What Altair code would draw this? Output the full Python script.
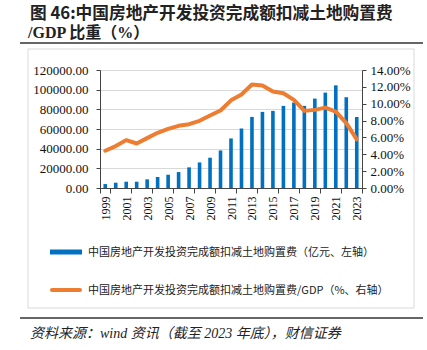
import altair as alt
import pandas as pd

years = [str(y) for y in range(1999, 2024)]
invest = [4000, 5400, 6400, 6400, 8800, 11200, 13500, 16200, 21000, 26000, 30800,
          38200, 50400, 60500, 72300, 77400, 78400, 83500, 86900, 83500, 90900,
          97000, 104400, 92300, 72300]
ratio = [4.42, 4.97, 5.68, 5.28, 5.92, 6.55, 7.02, 7.38, 7.57, 7.97, 8.60,
         9.20, 10.40, 11.10, 12.27, 12.15, 11.44, 11.24, 10.45, 9.15, 9.27,
         9.54, 9.07, 7.69, 5.76]
odd_years = [y for y in years if int(y) % 2 == 1]

title1 = "图 46:中国房地产开发投资完成额扣减土地购置费"
title2 = "/GDP 比重（%）"
legend1 = "中国房地产开发投资完成额扣减土地购置费（亿元、左轴）"
legend2 = "中国房地产开发投资完成额扣减土地购置费/GDP（%、右轴）"
source = "资料来源：wind 资讯（截至 2023 年底），财信证券"

df = pd.DataFrame({"year": years, "invest": invest, "ratio": [r / 100 for r in ratio]})
one = pd.DataFrame({"a": [0]})

SERIF = "Liberation Serif, Noto Sans CJK SC"
SANS = "Noto Sans CJK SC"
BLUE = "#0070C0"
ORANGE = "#ED7D31"

xenc = alt.X("year:O", title=None,
             scale=alt.Scale(paddingInner=0, paddingOuter=0),
             axis=alt.Axis(values=odd_years, labelAngle=270, labelFont=SERIF,
                           labelFontSize=12, labelColor="#111", domainColor="#444",
                           tickColor="#444", tickSize=5, tickBand="extent",
                           labelPadding=3, labelAlign="right", labelBaseline="middle"))

bars = alt.Chart(df).mark_bar(color=BLUE, size=3.6).encode(
    x=xenc,
    y=alt.Y("invest:Q", title=None,
            scale=alt.Scale(domain=[0, 120000]),
            axis=alt.Axis(orient="left", values=[0, 20000, 40000, 60000, 80000, 100000, 120000],
                          format=".2f", labelFont=SERIF, labelFontSize=13, labelColor="#111",
                          grid=True, gridColor="#D9D9D9", domainColor="#444",
                          tickColor="#444", tickSize=4, labelPadding=8))
)

line = alt.Chart(df).mark_line(color=ORANGE, strokeWidth=4, strokeCap="round", strokeJoin="round").encode(
    x=alt.X("year:O"),
    y=alt.Y("ratio:Q", title=None,
            scale=alt.Scale(domain=[0, 0.14]),
            axis=alt.Axis(orient="right", values=[0, 0.02, 0.04, 0.06, 0.08, 0.10, 0.12, 0.14],
                          format=".2%", labelFont=SERIF, labelFontSize=13, labelColor="#111",
                          grid=False, domainColor="#444", tickColor="#444", tickSize=4,
                          labelPadding=4))
)

main = alt.layer(bars, line).resolve_scale(y="independent")

def txt(s, x, y, size, font, weight="normal", style="normal", color="#111"):
    return alt.Chart(one).mark_text(align="left", baseline="alphabetic", font=font,
                                    fontSize=size, fontWeight=weight, fontStyle=style,
                                    color=color).encode(
        x=alt.value(x), y=alt.value(y), text=alt.value(s))

def rule(x1, x2, y, color, w, cap="butt"):
    return alt.Chart(one).mark_rule(color=color, strokeWidth=w, strokeCap=cap).encode(
        x=alt.value(x1), x2=alt.value(x2), y=alt.value(y))

box = alt.Chart(one).mark_rect(fill="white", fillOpacity=0, stroke="#D9D9D9", strokeWidth=1).encode(
    x=alt.value(-72), x2=alt.value(314), y=alt.value(-21), y2=alt.value(238))

annot = [
    box,
    txt(title1, -70, -51, 16.7, SANS, weight="bold", color="#222"),
    txt(title2, -72, -32, 16, SERIF, weight="bold", color="#222"),
    rule(-80, 323, -27, "#333", 1.5),
    rule(-50, -18, 182, BLUE, 5),
    txt(legend1, -12, 186, 11, SANS, color="#222"),
    rule(-48, -20, 220, ORANGE, 4, cap="round"),
    txt(legend2, -12, 224, 11, SANS, color="#222"),
    rule(-80, 323, 248, "#333", 1.5),
    txt(source, -70, 268, 14, SERIF, style="italic", color="#222"),
]

chart = alt.layer(main, *annot).properties(
    width=262, height=118,
    autosize=alt.AutoSizeParams(type="none"),
    padding={"left": 100, "top": 70, "right": 65, "bottom": 162},
).configure_view(stroke=None).configure(background="white")

chart.save("out.html", embed_options={"renderer": "svg", "actions": False})
